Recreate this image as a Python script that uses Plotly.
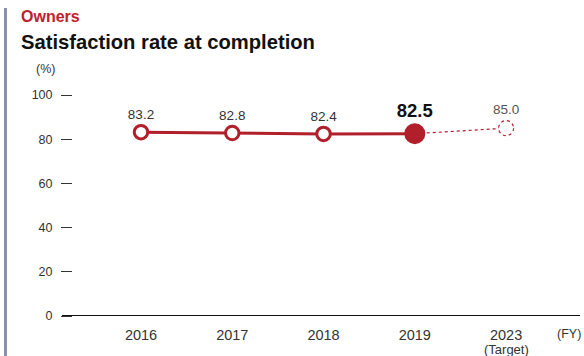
import plotly.graph_objects as go

# Fiscal years and owner satisfaction at completion (%)
years = ["2016", "2017", "2018", "2019", "2023"]
target_note = "(Target)"
actual_years = ["2016", "2017", "2018", "2019"]
actual_values = [83.2, 82.8, 82.4, 82.5]
target_year = "2023"
target_value = 85.0
y_ticks = [0, 20, 40, 60, 80, 100]

RED = "#b11f2b"
TEXT = "#333333"
FONT = "Liberation Sans, Arial, sans-serif"

W, H = 584, 356
L, R, T, B = 73, 4, 95, 40
PW, PH = W - L - R, H - T - B


def px_x(px):
    return (px - L) / PW


def px_y(py):
    return (H - B - py) / PH


target_idx = years.index(target_year)

fig = go.Figure()

# dotted link from latest result to target
fig.add_trace(go.Scatter(
    x=[actual_years[-1], target_year], y=[actual_values[-1], target_value],
    mode="lines", line=dict(color=RED, width=1.2, dash="dot"),
    hoverinfo="skip", showlegend=False,
))

# target point: white disc with its value above
fig.add_trace(go.Scatter(
    x=[target_year], y=[target_value], mode="markers+text",
    marker=dict(size=15, color="white", opacity=1, line=dict(width=0)),
    text=[f"{target_value:.1f}"], textposition="top center",
    textfont=dict(size=13.5, color="#555555", family=FONT),
    showlegend=False, cliponaxis=False,
))

# actual results line with open markers
fig.add_trace(go.Scatter(
    x=actual_years, y=actual_values,
    mode="lines+markers+text",
    line=dict(color=RED, width=3),
    marker=dict(size=[13.5, 13.5, 13.5, 18], color=["white", "white", "white", RED],
                opacity=1, line=dict(color=RED, width=3)),
    text=[f"{v:.1f}" for v in actual_values[:-1]] + [f"<b>{actual_values[-1]:.1f}</b>"],
    textposition="top center",
    textfont=dict(size=[13.5, 13.5, 13.5, 18.5], color=[TEXT, TEXT, TEXT, "#111111"], family=FONT),
    showlegend=False, cliponaxis=False,
))

shapes = [
    # dotted target circle outline anchored on the target value
    dict(type="circle", xref="x", yref="y", xsizemode="pixel", ysizemode="pixel",
         xanchor=target_idx, yanchor=target_value,
         x0=-7.5, x1=7.5, y0=-7.5, y1=7.5,
         line=dict(color=RED, width=1.2, dash="dot"), layer="above"),
    # baseline
    dict(type="line", xref="paper", yref="y", x0=px_x(62), x1=px_x(580), y0=0, y1=0,
         line=dict(color="#111111", width=2)),
    # left accent bar
    dict(type="rect", xref="paper", yref="paper", x0=px_x(4), x1=px_x(7),
         y0=px_y(356), y1=px_y(8), line=dict(width=0), fillcolor="#8a93ad"),
]

annotations = [
    dict(text="<b>Owners</b>", x=px_x(19), y=px_y(17), xref="paper", yref="paper",
         xanchor="left", yanchor="middle", showarrow=False,
         font=dict(size=16, color="#c0202e", family=FONT)),
    dict(text="<b>Satisfaction rate at completion</b>", x=px_x(19), y=px_y(42),
         xref="paper", yref="paper", xanchor="left", yanchor="middle", showarrow=False,
         font=dict(size=20.2, color="#111111", family=FONT)),
    dict(text="(%)", x=px_x(45), y=px_y(69), xref="paper", yref="paper",
         xanchor="center", yanchor="middle", showarrow=False,
         font=dict(size=12.5, color=TEXT, family=FONT)),
    dict(text="(FY)", x=px_x(569), y=px_y(334), xref="paper", yref="paper",
         xanchor="center", yanchor="middle", showarrow=False,
         font=dict(size=12.5, color=TEXT, family=FONT)),
    # note under the target year's tick label
    dict(text=target_note, x=target_idx, y=px_y(349.5), xref="x", yref="paper",
         xanchor="center", yanchor="middle", showarrow=False,
         font=dict(size=13, color=TEXT, family=FONT)),
]

fig.update_layout(
    width=W, height=H,
    margin=dict(l=L, r=R, t=T, b=B, autoexpand=False),
    paper_bgcolor="white", plot_bgcolor="white",
    shapes=shapes, annotations=annotations,
    xaxis=dict(
        type="category", categoryorder="array", categoryarray=years,
        tickmode="array", tickvals=years, ticktext=years,
        range=[-0.745, 4.81], showgrid=False, zeroline=False, showline=False,
        ticks="", ticklabelstandoff=8, automargin=False,
        tickfont=dict(size=14.5, color=TEXT, family=FONT),
    ),
    yaxis=dict(
        range=[0, 100], tickvals=y_ticks, showgrid=False, zeroline=False, showline=False,
        ticks="outside", ticklen=11, tickwidth=1, tickcolor=TEXT, ticklabelstandoff=6,
        automargin=False,
        tickfont=dict(size=12.5, color=TEXT, family=FONT),
    ),
)

fig.write_html("out.html")
